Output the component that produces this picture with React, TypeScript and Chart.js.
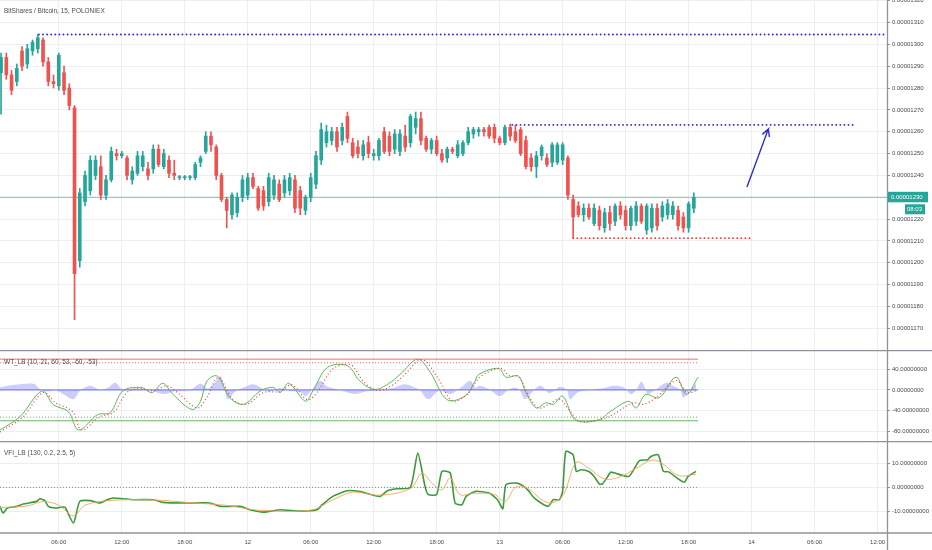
import { useEffect, useRef } from "react";
import { Chart, registerables } from "chart.js";

Chart.register(...registerables);
Chart.defaults.font.family = "'Liberation Sans', Arial, sans-serif";

// time axis: hours from the 12th 00:00, 30-minute candles
const DAY0 = 12;
const X_MIN = -23.6;
const X_MAX = 60.9;
const candleStart = -23.5;
const candleStep = 0.5;

// prices in 1e-8 BTC
const opens = [
  1287, 1294, 1286, 1283, 1297, 1291, 1297, 1298, 1302, 1292, 1283, 1281, 1287, 1280, 1271, 1201, 1228, 1233, 1240, 1244,
  1231, 1238, 1250, 1249, 1248, 1238, 1241, 1244, 1243, 1243, 1252, 1244, 1247, 1241, 1239, 1239, 1239, 1239, 1246, 1251,
  1258, 1253, 1240, 1229, 1222, 1223, 1230, 1231, 1239, 1234, 1233, 1228, 1231, 1236, 1232, 1233, 1238, 1233, 1224, 1230,
  1236, 1247, 1255, 1256, 1260, 1256, 1267, 1255, 1253, 1249, 1255, 1249, 1249, 1260, 1258, 1252, 1251, 1258, 1255, 1262,
  1266, 1257, 1252, 1256, 1250, 1248, 1252, 1249, 1250, 1255, 1259, 1260, 1261, 1262, 1262, 1257, 1255, 1262, 1260, 1261,
  1256, 1248, 1244, 1249, 1248, 1246, 1246, 1247, 1248, 1229, 1226, 1222, 1225, 1218, 1224, 1216, 1223, 1219, 1226, 1224,
  1217, 1219, 1226, 1215, 1216, 1225, 1221, 1222, 1222, 1224, 1221, 1216, 1225,
];
const highs = [
  1296, 1296, 1288, 1291, 1299, 1300, 1302, 1304.5, 1303, 1294, 1286, 1296, 1290, 1282, 1272, 1234, 1242, 1249, 1249, 1249,
  1240, 1253, 1252, 1251, 1249, 1244, 1251, 1251, 1246, 1254, 1254, 1252, 1249, 1247, 1240, 1240, 1240, 1246, 1249, 1260,
  1260, 1254, 1241, 1230, 1232, 1232, 1240, 1241, 1241, 1235, 1235, 1241, 1240, 1238, 1240, 1241, 1240, 1235, 1231, 1241,
  1251, 1264, 1263, 1262, 1262, 1264, 1269, 1257, 1256, 1256, 1258, 1252, 1257, 1262, 1260, 1261, 1261, 1263, 1268, 1269,
  1269, 1258, 1257, 1258, 1252, 1253, 1253, 1256, 1256, 1262, 1262, 1262, 1262, 1263, 1263.5, 1258, 1263, 1263.5, 1263, 1262,
  1258, 1250, 1251, 1254, 1250, 1255, 1255, 1255, 1249, 1231, 1228, 1227, 1227, 1227, 1226, 1225, 1226, 1227, 1228, 1226,
  1226, 1228, 1227, 1227, 1227, 1227, 1228, 1229, 1228, 1226, 1223, 1228, 1232,
];
const lows = [
  1268, 1284, 1277, 1281, 1288, 1289, 1295, 1296, 1290, 1281, 1280, 1279, 1277, 1270, 1174, 1198, 1226, 1231, 1238, 1229,
  1229, 1237, 1247, 1248, 1238, 1236, 1240, 1242, 1238, 1241, 1244, 1243, 1239, 1238, 1238, 1238, 1238, 1238, 1244, 1250,
  1251, 1238, 1228, 1216, 1220, 1221, 1228, 1229, 1234, 1224, 1224, 1226, 1229, 1228, 1230, 1231, 1223, 1222, 1222, 1228,
  1234, 1245, 1253, 1254, 1251, 1254, 1255, 1248, 1248, 1247, 1248, 1247, 1247, 1250, 1249, 1250, 1249, 1251, 1253, 1259,
  1254, 1251, 1250, 1249, 1246, 1246, 1250, 1248, 1249, 1254, 1257, 1258, 1258, 1257, 1255, 1254, 1254, 1256, 1255, 1249,
  1243, 1242, 1239, 1247, 1244, 1244, 1245, 1245, 1229, 1211.5, 1221, 1219, 1220, 1217, 1215, 1214, 1215, 1217, 1220, 1215,
  1215, 1217, 1218, 1213, 1214, 1215, 1219, 1220, 1220, 1215, 1214, 1214, 1223,
];
const closes = [
  1294, 1286, 1279, 1289, 1290, 1298, 1301, 1303, 1292, 1283, 1282, 1295, 1279, 1272, 1195, 1232, 1240, 1247, 1247, 1231,
  1238, 1251, 1249, 1250, 1240, 1242, 1249, 1249, 1240, 1252, 1245, 1250, 1241, 1240, 1239, 1239, 1239, 1245, 1248, 1258,
  1254, 1240, 1229, 1224, 1231, 1230, 1238, 1239, 1235, 1225, 1226, 1239, 1238, 1229, 1238, 1239, 1225, 1225, 1230, 1239,
  1249, 1261, 1260, 1260, 1253, 1262, 1257, 1249, 1250, 1254, 1250, 1250, 1256, 1251, 1251, 1259, 1259, 1253, 1267, 1266,
  1256, 1252, 1256, 1250, 1247, 1252, 1251, 1254, 1255, 1260, 1261, 1261, 1260, 1258, 1257, 1255, 1262, 1258, 1256, 1250,
  1244, 1244, 1249, 1253, 1245, 1254, 1254, 1254, 1231, 1221, 1222, 1225, 1221, 1225, 1217, 1223, 1218, 1226, 1222, 1217,
  1225, 1226, 1219, 1226, 1225, 1217, 1226, 1227, 1226, 1217, 1216, 1227, 1230,
];

// drawn levels and arrow (hours, price)
const topLevel = { from: -19.9, to: 60.8, price: 1304.5 };
const midLevel = { from: 25.2, to: 57.85, price: 1263.1 };
const lowLevel = { from: 31.0, to: 47.85, price: 1211.3 };
const arrowHours = [47.56, 49.59, 49.02, 49.59, 49.7];
const arrowPrices = [1234.7, 1261.2, 1258.8, 1261.2, 1257.6];
const countdown = "08:03";

// WT_LB
const wtLevels = [60, 53, -53, -60];
const wtEnd = 42.9;
const wt1Hours = [
  -23.6, -21.7, -19.6, -18.5, -17.1, -16.1, -14.3, -13.1, -11.9, -10.2, -9.1, -8.1, -7.1, -5.3, -4.5, -3.9, -2.9, -1.7,
  -0.4, 1.2, 2.4, 3.1, 3.9, 5.5, 6.2, 7.6, 9.5, 10.7, 12.1, 13.4, 14.5, 16.2, 17.4, 19.0, 20.7, 21.6, 22.0, 23.9, 24.6,
  25.8, 26.5, 27.5, 28.4, 29.1, 30.0, 31.0, 31.8, 33.5, 34.4, 36.3, 37.0, 37.9, 39.2, 40.8, 41.8, 42.9,
];
const wt1Values = [
  -78, -52, -2, -29, -42, -78, -48, -44, -2, 5, -5, 13, -9, -38, -22, 17, 27, -15, -28, -2, 5, -5, 13, -22, -2, 44, 47,
  17, 1, 12, 30, 60, 34, -19, -12, 15, 30, 42, 25, 27, -5, -35, -25, -28, -12, -54, -62, -58, -44, -22, -35, -9, -15, 25,
  -9, 25,
];
const wt2Hours = [
  -23.6, -21.4, -19.5, -18.3, -16.7, -15.8, -14.1, -12.8, -11.5, -10.2, -9.0, -7.7, -6.7, -4.8, -3.9, -2.8, -1.4, -0.1,
  1.5, 3.1, 4.2, 5.7, 6.7, 8.1, 9.8, 11.0, 12.3, 13.7, 14.8, 16.6, 18.0, 19.5, 20.7, 21.1, 21.9, 22.7, 24.1, 24.9, 25.8,
  26.8, 27.7, 28.7, 29.7, 30.6, 31.6, 33.5, 34.8, 36.7, 37.7, 38.9, 40.8, 41.9, 42.9,
];
const wt2Values = [
  -82, -52, -5, -25, -42, -78, -52, -44, -5, 3, -2, 8, -5, -35, -15, 24, -19, -28, -5, -3, 10, -19, -2, 41, 49, 17, -1, 8,
  27, 59, 27, -22, -12, -5, 20, 33, 42, 28, 25, -12, -35, -28, -18, -38, -61, -58, -48, -25, -28, -15, 18, -5, 0,
];
const histHours = [
  -23.6, -22.2, -20.4, -19.8, -19.1, -18.3, -17.6, -16.6, -16.0, -15.0, -14.1, -13.3, -12.6, -12.0, -10.7, -9.3, -8.5,
  -7.9, -6.9, -5.5, -4.5, -3.8, -3.1, -2.6, -2.2, -1.9, -1.2, -0.2, 0.5, 1.4, 2.1, 3.1, 4.0, 5.0, 5.5, 6.1, 6.9, 7.6, 8.8,
  10.2, 11.2, 12.6, 14.0, 15.0, 16.0, 16.4, 17.2, 18.2, 19.3, 20.0, 20.4, 21.2, 21.7, 22.1, 23.1, 24.0, 24.8, 25.4, 25.9,
  26.4, 27.1, 27.9, 28.7, 29.3, 29.7, 30.4, 30.7, 31.5, 32.6, 34.0, 34.9, 35.9, 36.5, 37.0, 37.5, 37.9, 38.1, 38.8, 39.9,
  40.7, 41.2, 41.5, 42.1, 42.7,
];
const histValues = [
  5, 10, 12, 2, -3, 0, -8, -18, -2, 8, 0, 5, 14, 2, 3, 0, -6, -8, -2, 0, 12, 3, 15, 27, 0, -18, -3, 6, 11, 3, -3, 4, -2,
  -4, -12, 0, 18, 6, 0, -8, -3, 0, 5, 11, 4, 0, -18, -2, -8, 0, 6, 18, 4, 8, 0, -12, 0, 5, 0, -18, -4, 8, -6, 0, 6, 0,
  -18, -4, 0, 4, 8, 4, -8, 0, 16, 2, -8, 0, 14, 6, 0, -15, 0, 12,
];

// VFI_LB
const vfiHours = [
  -23.6, -23.3, -22.9, -22.0, -21.4, -20.1, -19.8, -19.3, -19.0, -18.3, -17.7, -17.4, -16.6, -16.0, -15.0, -14.1, -13.4,
  -12.8, -11.9, -10.9, -9.0, -8.1, -5.8, -3.6, -2.6, -0.7, 0.2, 1.5, 3.1, 5.0, 6.6, 7.1, 8.1, 9.5, 10.7, 12.6, 13.3, 14.2,
  15.5, 16.2, 16.9, 17.2, 18.0, 18.5, 19.3, 19.75, 20.4, 20.8, 21.7, 23.0, 23.8, 24.3, 24.6, 25.6, 26.3, 26.8, 27.3, 28.6,
  29.1, 29.7, 30.0, 30.3, 31.0, 31.3, 31.75, 32.5, 33.0, 33.5, 33.8, 34.3, 34.6, 36.3, 37.3, 38.1, 38.4, 39.1, 39.6, 40.1,
  41.1, 41.6, 41.95, 42.7,
];
const vfiValues = [
  -8, -10.8, -8.7, -8, -7, -5.9, -4.8, -5.7, -8, -8.7, -8.3, -8.4, -15, -5.9, -5.6, -6.6, -5.2, -4.5, -4.8, -5.2, -5.2,
  -6.3, -6.6, -6.6, -8, -8, -9.4, -10.4, -9.4, -10, -9.4, -7.3, -3.8, -1.4, -1.8, -3.8, -1.4, -0.6, 0, 14.4, 0.2, -3, -3,
  6.7, 6, -6.6, -7.3, -3.8, -1.7, -2.4, -5.2, -9, 1.1, 1.8, 0.4, -1.7, -4.5, -8, -5.2, -5.2, -1.7, 15.1, 13.7, 6.7, 7.4,
  6.7, 4.6, 1.4, 1.5, 4.6, 6.4, 4.6, 11.2, 11.6, 13, 13.7, 6.7, 6.5, 3.3, 2.2, 4.6, 6.7,
];
const signalHours = [
  -23.6, -21.0, -19.5, -18.0, -16.6, -15.5, -13.0, -9.0, -5.0, -2.0, 1.0, 6.0, 8.0, 10.0, 12.5, 15.5, 16.6, 17.5, 18.5,
  19.3, 20.2, 21.5, 23.5, 24.5, 25.5, 26.5, 28.6, 30.0, 31.3, 32.5, 34.0, 35.5, 37.0, 38.5, 39.5, 41.0, 42.7,
];
const signalValues = [
  -8.5, -7.8, -6, -7.5, -12, -7.5, -5.5, -5.3, -6.6, -7.6, -9.6, -9.6, -5.5, -2, -3.3, -0.5, 6, 2, -1, 4, -3, -2.5, -3, -6,
  0, 0, -6.5, -3.5, 10.5, 8, 3.5, 4.5, 8, 11.5, 10, 5, 5.5,
];

const UP = "#26a69a";
const DOWN = "#ef5350";
const GRID = "#eceef3";
const AXIS = "#8f929b";
const TEXT = "#4a4a4a";
const AXIS_W = 45;

const pts = (xs: number[], ys: number[]) => xs.map((x, i) => ({ x, y: ys[i] }));

function timeLabel(v: number) {
  const h = ((v % 24) + 24) % 24;
  if (h === 0) return String(DAY0 + v / 24);
  return String(h).padStart(2, "0") + ":00";
}

function xScale(showLabels: boolean) {
  return {
    type: "linear",
    min: X_MIN,
    max: X_MAX,
    offset: false,
    ticks: {
      display: showLabels,
      stepSize: 6,
      includeBounds: false,
      autoSkip: false,
      maxRotation: 0,
      color: TEXT,
      font: { size: 6 },
      padding: 6,
      callback: (v: number) => timeLabel(v),
    },
    grid: { color: GRID, drawTicks: false, offset: false },
    border: { display: false },
    afterFit: (s: any) => {
      s.height = showLabels ? 17 : 0;
      s.paddingLeft = 0;
      s.paddingRight = 0;
    },
  };
}

function yScale(min: number, max: number, step: number, fmt: (v: number) => string) {
  return {
    position: "right",
    min,
    max,
    ticks: {
      stepSize: step,
      includeBounds: false,
      color: TEXT,
      font: { size: 6 },
      padding: 2,
      callback: (v: number) => fmt(v),
    },
    grid: { color: GRID, tickColor: AXIS, tickLength: 3 },
    border: { display: false },
    afterFit: (s: any) => {
      s.width = AXIS_W;
      s.paddingTop = 0;
      s.paddingBottom = 0;
    },
  };
}

function framePlugin(top: boolean, bottom: boolean) {
  return {
    id: "frame",
    afterDraw(chart: any) {
      const { ctx, chartArea, width, height } = chart;
      ctx.save();
      ctx.strokeStyle = AXIS;
      ctx.lineWidth = 1.3;
      ctx.beginPath();
      if (top) {
        ctx.moveTo(0, 0.6);
        ctx.lineTo(width, 0.6);
      }
      if (bottom) {
        ctx.moveTo(0, chartArea.bottom);
        ctx.lineTo(width, chartArea.bottom);
      }
      ctx.moveTo(chartArea.right + 0.5, 0);
      ctx.lineTo(chartArea.right + 0.5, height);
      ctx.stroke();
      ctx.restore();
    },
  };
}

const priceTag = {
  id: "priceTag",
  afterDraw(chart: any) {
    const { ctx, chartArea, width } = chart;
    const last = closes[closes.length - 1];
    const y = chart.scales.y.getPixelForValue(last);
    ctx.save();
    ctx.fillStyle = UP;
    ctx.fillRect(chartArea.right + 1, y - 5.5, 40, 10.5);
    ctx.fillRect(width - 27, y + 7, 20, 10);
    ctx.fillStyle = "#ffffff";
    ctx.font = "6px 'Liberation Sans', Arial, sans-serif";
    ctx.textBaseline = "middle";
    ctx.fillText((last / 1e8).toFixed(8), chartArea.right + 4, y);
    ctx.fillText(countdown, width - 25, y + 12);
    ctx.restore();
  },
};

const baseOptions = {
  responsive: true,
  maintainAspectRatio: false,
  animation: false,
  events: [],
  layout: { padding: 0 },
  plugins: { legend: { display: false }, tooltip: { enabled: false } },
};

const dotted = (data: any[], color: string) => ({
  type: "line",
  data,
  borderColor: color,
  borderWidth: 1.8,
  borderDash: [0.1, 4],
  borderCapStyle: "round",
  pointRadius: 0,
  order: 0,
});

export default function App() {
  const priceRef = useRef<HTMLCanvasElement>(null);
  const wtRef = useRef<HTMLCanvasElement>(null);
  const vfiRef = useRef<HTMLCanvasElement>(null);

  useEffect(() => {
    if (!priceRef.current || !wtRef.current || !vfiRef.current) return;
    const times = opens.map((_, i) => candleStart + i * candleStep);
    const colors = times.map((_, i) => (closes[i] >= opens[i] ? UP : DOWN));
    const last = closes[closes.length - 1];

    const price = new Chart(priceRef.current, {
      type: "bar",
      data: {
        datasets: [
          dotted(
            [
              { x: topLevel.from, y: topLevel.price },
              { x: topLevel.to, y: topLevel.price },
            ],
            "#2f2fd0"
          ),
          dotted(
            [
              { x: midLevel.from, y: midLevel.price },
              { x: midLevel.to, y: midLevel.price },
            ],
            "#2f2fd0"
          ),
          dotted(
            [
              { x: lowLevel.from, y: lowLevel.price },
              { x: lowLevel.to, y: lowLevel.price },
            ],
            "#f03c3c"
          ),
          {
            type: "line",
            data: pts(arrowHours, arrowPrices),
            borderColor: "#2a2ad6",
            borderWidth: 1.4,
            pointRadius: 0,
            order: 0,
          },
          {
            data: times.map((t, i) => ({ x: t, y: [opens[i], closes[i]] })),
            backgroundColor: colors,
            barThickness: 3,
            minBarLength: 1,
            grouped: false,
            order: 1,
          },
          {
            data: times.map((t, i) => ({ x: t, y: [lows[i], highs[i]] })),
            backgroundColor: colors,
            barThickness: 1,
            grouped: false,
            order: 2,
          },
          {
            type: "line",
            data: [
              { x: X_MIN, y: last },
              { x: X_MAX, y: last },
            ],
            borderColor: "rgba(38,166,154,0.6)",
            borderWidth: 1,
            pointRadius: 0,
            order: 3,
          },
        ],
      } as any,
      options: {
        ...baseOptions,
        scales: {
          x: xScale(false),
          y: yScale(1160.1, 1320.3, 10, (v) => (v / 1e8).toFixed(8)),
        },
      } as any,
      plugins: [framePlugin(false, false), priceTag],
    });

    const wt = new Chart(wtRef.current, {
      type: "line",
      data: {
        datasets: [
          ...wtLevels.map((lv, k) => ({
            data: [
              { x: X_MIN, y: lv },
              { x: wtEnd, y: lv },
            ],
            borderColor: lv > 0 ? "rgba(239,83,80,0.85)" : "rgba(67,160,71,0.8)",
            borderWidth: 1,
            borderDash: k === 1 || k === 2 ? [1, 2] : [],
            pointRadius: 0,
            order: 2,
          })),
          {
            data: pts(wt1Hours, wt1Values),
            borderColor: "#5cb85c",
            borderWidth: 1,
            pointRadius: 0,
            tension: 0.35,
            order: 1,
          },
          {
            data: pts(wt2Hours, wt2Values),
            borderColor: "#e8403c",
            borderWidth: 1.2,
            borderDash: [1, 2.5],
            pointRadius: 0,
            tension: 0.35,
            order: 0,
          },
          {
            data: [
              { x: X_MIN, y: 0 },
              { x: wtEnd, y: 0 },
            ],
            borderColor: "#6c6cf0",
            borderWidth: 1,
            pointRadius: 0,
            order: 3,
          },
          {
            data: pts(histHours, histValues),
            borderWidth: 0,
            backgroundColor: "rgba(130,130,250,0.4)",
            fill: "origin",
            pointRadius: 0,
            tension: 0.35,
            order: 4,
          },
        ],
      } as any,
      options: {
        ...baseOptions,
        scales: {
          x: xScale(false),
          y: yScale(-99.4, 77.8, 40, (v) => v.toFixed(8)),
        },
      } as any,
      plugins: [framePlugin(true, false)],
    });

    const vfi = new Chart(vfiRef.current, {
      type: "line",
      data: {
        datasets: [
          {
            data: pts(signalHours, signalValues),
            borderColor: "#f6a35c",
            borderWidth: 0.9,
            pointRadius: 0,
            tension: 0.35,
            order: 0,
          },
          {
            data: pts(vfiHours, vfiValues),
            borderColor: "#3c9a3c",
            borderWidth: 1.6,
            pointRadius: 0,
            tension: 0.2,
            order: 1,
          },
          {
            data: [
              { x: X_MIN, y: 0 },
              { x: wtEnd, y: 0 },
            ],
            borderColor: "#8a8a8a",
            borderWidth: 1,
            borderDash: [1, 2],
            pointRadius: 0,
            order: 2,
          },
        ],
      } as any,
      options: {
        ...baseOptions,
        scales: {
          x: xScale(true),
          y: yScale(-19.2, 19.5, 10, (v) => v.toFixed(8)),
        },
      } as any,
      plugins: [framePlugin(true, true)],
    });

    return () => {
      price.destroy();
      wt.destroy();
      vfi.destroy();
    };
  }, []);

  const label = {
    position: "absolute" as const,
    left: 4,
    font: "6.5px 'Liberation Sans', Arial, sans-serif",
    lineHeight: "8px",
    color: "#4d4d4d",
    whiteSpace: "nowrap" as const,
    pointerEvents: "none" as const,
  };

  return (
    <div style={{ position: "absolute", left: 0, top: 0, width: 932, height: 550, background: "#fff" }}>
      <div style={{ position: "absolute", left: 0, top: 0, width: 932, height: 350 }}>
        <canvas ref={priceRef} />
      </div>
      <div style={{ position: "absolute", left: 0, top: 350, width: 932, height: 91 }}>
        <canvas ref={wtRef} />
      </div>
      <div style={{ position: "absolute", left: 0, top: 441, width: 932, height: 109 }}>
        <canvas ref={vfiRef} />
      </div>
      <div style={{ ...label, top: 7 }}>BitShares / Bitcoin, 15, POLONIEX</div>
      <div style={{ ...label, top: 358 }}>WT_LB (10, 21, 60, 53, -60, -53)</div>
      <div style={{ ...label, top: 449 }}>VFI_LB (130, 0.2, 2.5, 5)</div>
    </div>
  );
}
